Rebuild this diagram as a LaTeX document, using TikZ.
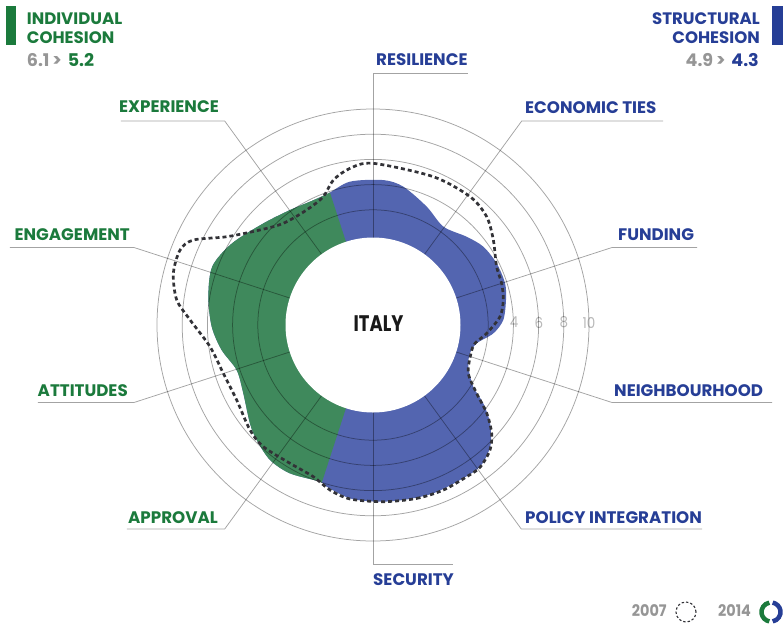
\documentclass[tikz,border=0pt]{standalone}
\usepackage{fontspec}
\setmainfont{Poppins}
\newfontfamily\labfam{Poppins}
\newfontfamily\narfam{Poppins}[FakeStretch=0.9]
\newfontfamily\italyfam{Poppins}[FakeStretch=0.8]
\definecolor{greenT}{RGB}{27,122,60}
\definecolor{blueT}{RGB}{38,62,150}
\definecolor{grayT}{RGB}{150,150,150}
\definecolor{scaleT}{RGB}{185,185,185}
\definecolor{fillG}{RGB}{63,137,92}
\definecolor{fillB}{RGB}{83,101,176}
\definecolor{dashC}{RGB}{50,50,55}
\newcommand{\labsize}{\labfam\fontsize{16.7}{16.7}\selectfont\bfseries}
\newcommand{\hdsize}{\labfam\fontsize{16.6}{16.6}\selectfont\bfseries}
\newcommand{\numsize}{\labfam\fontsize{17.5}{17.5}\selectfont\bfseries}
\newcommand{\legsize}{\narfam\fontsize{16}{16}\selectfont\bfseries}
\begin{document}
\begin{tikzpicture}[x=1pt,y=1pt,
  grid/.style={draw=black,draw opacity=0.36,line width=0.75pt},
  labB/.style={font=\labsize,text=blueT,inner sep=0pt,anchor=base west},
  labG/.style={font=\labsize,text=greenT,inner sep=0pt,anchor=base east},
  scalenum/.style={font=\narfam\fontsize{15}{15}\selectfont,text=scaleT,inner sep=0pt},
  old/.style={draw=dashC,line width=2.7pt,dash pattern=on 4pt off 3pt}]
\useasboundingbox (-373,-300) rectangle (410,325);
\coordinate (c) at (0,0);
% scale numbers
\foreach \v/\r in {2/115,4/141,6/166,8/191,10/216}
  \node[scalenum] (s\v) at (\r,2.5) {\v};
% 2014 shape
\def\newshape{(-88.8:176.7pt) (-80.2:177.6pt) (-70.3:178.8pt) (-60.7:177.8pt) (-53:177.6pt) (-46:168.8pt) (-40:152.8pt) (-35.4:135.3pt) (-31.6:117.8pt) (-23.6:104pt) (-16.3:101pt) (-10:105.3pt) (-4:120.6pt) (2.2:130.4pt) (10.6:135.3pt) (17.5:138.5pt) (26.5:138.2pt) (35.4:135.3pt) (43.3:128.7pt) (54.4:121pt) (65.6:130pt) (77.6:141.6pt) (85.9:145.3pt) (99.1:145.2pt) (108.7:139pt) (117:138.5pt) (125.8:141.8pt) (137.2:149.5pt) (150:163pt) (160:171pt) (170.2:167.1pt) (180.6:161.3pt) (189.4:153.4pt) (198.3:143.6pt) (207.8:146.6pt) (218.6:157.5pt) (224.7:163.6pt) (232.7:169.8pt) (240.8:170pt) (251.3:165.4pt) (254:168.2pt) (262.4:174.9pt)}
\fill[fillB] plot[smooth cycle,tension=0.5] coordinates {\newshape};
\begin{scope}
  \clip (0,0) -- (108:300pt) arc[start angle=108,end angle=252,radius=300pt] -- cycle;
  \fill[fillG] plot[smooth cycle,tension=0.5] coordinates {\newshape};
\end{scope}
% grid circles
\foreach \r in {115.2,140.4,165.6,190.8,216}
  \draw[grid] (c) circle[radius=\r];
% axes
\coordinate (aRes) at (0,252);      \coordinate (uRes) at (95,252);
\coordinate (aEco) at (148.7,204);  \coordinate (uEco) at (290,204);
\coordinate (aFun) at (239,77.5);   \coordinate (uFun) at (324,77.5);
\coordinate (aNei) at (239,-77.5);  \coordinate (uNei) at (399,-77.5);
\coordinate (aPol) at (148.3,-204); \coordinate (uPol) at (329,-204);
\coordinate (aSec) at (0,-239);     \coordinate (uSec) at (80,-239);
\coordinate (aApp) at (-148.3,-204);\coordinate (uApp) at (-246,-204);
\coordinate (aAtt) at (-239,-77.5); \coordinate (uAtt) at (-335,-77.5);
\coordinate (aEng) at (-239,77.5);  \coordinate (uEng) at (-363,77.5);
\coordinate (aExp) at (-148.3,204); \coordinate (uExp) at (-252,204);
\foreach \n in {Res,Eco,Fun,Nei,Pol,Sec,App,Att,Eng,Exp}
  \draw[grid] (c) -- (a\n) -- (u\n);
% inner hole
\fill[white] (c) circle[radius=87.5];
\node[font=\italyfam\fontsize{22.5}{22.5}\selectfont\bfseries,text=black!90,inner sep=0pt] (italy) at (5.5,1.5) {ITALY};
% 2007 curve
\draw[old] plot[smooth cycle,tension=0.5] coordinates {(-86.7:177pt) (-75.9:178.8pt) (-66.9:179.4pt) (-58.3:178.3pt) (-53:178pt) (-46.9:171.2pt) (-42.4:160.7pt) (-37.8:144pt) (-33.4:124.2pt) (-26.9:106.9pt) (-16.3:102pt) (-10.2:103.6pt) (-4.2:114pt) (3.8:127.3pt) (10.9:132.7pt) (17.9:135.2pt) (25.3:136.7pt) (35.2:147.3pt) (43.6:157pt) (52.9:160.9pt) (67.9:160.1pt) (90:161.7pt) (98.4:158.3pt) (105.3:150.3pt) (111.2:137.6pt) (120:132.8pt) (131.4:135.6pt) (139.9:147.6pt) (148.9:170.9pt) (154.7:198.8pt) (158.8:207pt) (165.5:206.2pt) (172.7:197.9pt) (178.4:183pt) (187.6:164.4pt) (197.9:157.3pt) (208.8:155.6pt) (220.5:161.7pt) (228:163.8pt) (239:161.3pt) (248.5:163pt) (255.4:170.5pt) (262.4:175.5pt)};
% labels
\node[labB] (tRes) at (3,260) {RESILIENCE};
\node[labB] (tEco) at (152,212) {ECONOMIC TIES};
\node[labB] (tFun) at (245,85) {FUNDING};
\node[labB] (tNei) at (241,-71) {NEIGHBOURHOOD};
\node[labB] (tPol) at (152,-198) {POLICY INTEGRATION};
\node[labB] (tSec) at (0,-260) {SECURITY};
\node[labG] (tExp) at (-154,212.3) {EXPERIENCE};
\node[labG] (tEng) at (-243,85) {ENGAGEMENT};
\node[labG] (tAtt) at (-245,-71) {ATTITUDES};
\node[labG] (tApp) at (-155,-198) {APPROVAL};
% headers
\fill[greenT] (-367,280) rectangle (-357,319);
\node[font=\hdsize,text=greenT,inner sep=0pt,anchor=base west] (h1) at (-346.3,301) {INDIVIDUAL};
\node[font=\hdsize,text=greenT,inner sep=0pt,anchor=base west] (h2) at (-346.3,281.7) {COHESION};
\node[font=\numsize,inner sep=0pt,anchor=base west] (h3) at (-346.3,259) {\textcolor{grayT}{6.1\,>}\,\,\textcolor{greenT}{5.2}};
\fill[blueT] (399,280) rectangle (411,319);
\node[font=\hdsize,text=blueT,inner sep=0pt,anchor=base east] (h4) at (387,301) {STRUCTURAL};
\node[font=\hdsize,text=blueT,inner sep=0pt,anchor=base east] (h5) at (387,281.7) {COHESION};
\node[font=\numsize,inner sep=0pt,anchor=base east] (h6) at (386,259) {\textcolor{grayT}{4.9\,>}\,\,\textcolor{blueT}{4.3}};
% legend
\node[font=\legsize,text=grayT,inner sep=0pt,anchor=base west] (l1) at (258.7,-291.7) {2007};
\draw[draw=dashC,line width=1.1pt,dash pattern=on 2.4pt off 2pt] (313,-287) circle[radius=10];
\node[font=\legsize,text=grayT,inner sep=0pt,anchor=base west] (l2) at (345,-291.7) {2014};
\draw[greenT,line width=4.5pt] (398,-287) ++(100:9.5) arc[start angle=100,end angle=260,radius=9.5];
\draw[blueT,line width=4.5pt] (398,-287) ++(-80:9.5) arc[start angle=-80,end angle=80,radius=9.5];
\end{tikzpicture}
\end{document}
